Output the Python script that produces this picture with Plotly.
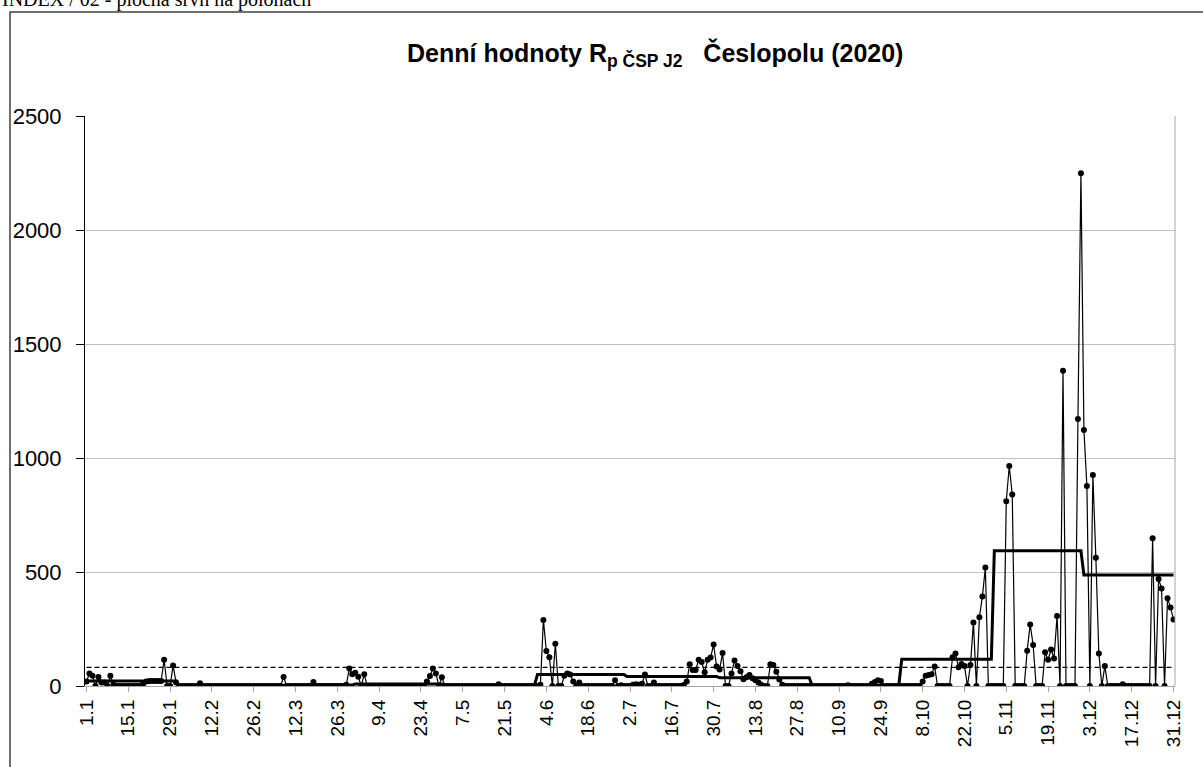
import plotly.graph_objects as go

# ---------------- data ----------------
tick_labels = ["1.1", "15.1", "29.1", "12.2", "26.2", "12.3", "26.3", "9.4", "23.4",
               "7.5", "21.5", "4.6", "18.6", "2.7", "16.7", "30.7", "13.8", "27.8",
               "10.9", "24.9", "8.10", "22.10", "5.11", "19.11", "3.12", "17.12", "31.12"]

month_lengths = [31, 28, 31, 30, 31, 30, 31, 31, 30, 31, 30, 31]

jan = [20, 55, 45, 0, 40, 15, 15, 0, 45, 5, 0, 0, 0, 0, 0, 0, 0, 0, 0, 10,
       20, 22, 22, 22, 22, 22, 115, 0, 0, 90, 15]
feb = [0, 0, 0, 0, 0, 0, 0, 12, 0, 0, 0, 0, 0, 0, 0, 0, 0, 0, 0, 0,
       0, 0, 0, 0, 0, 0, 0, 0]
mar = [0, 0, 0, 0, 0, 0, 0, 40, 0, 0, 0, 0, 0, 0, 0, 0, 0, 18, 0, 0,
       0, 0, 0, 0, 0, 0, 0, 0, 5, 77, 52]
apr = [58, 41, 0, 51, 0, 0, 0, 0, 0, 0, 0, 0, 0, 0, 0, 0, 0, 0, 0, 0,
       0, 0, 0, 0, 20, 44, 77, 55, 0, 38]
may = [0, 0, 0, 0, 0, 0, 0, 0, 0, 0, 0, 0, 0, 0, 0, 0, 0, 0, 8, 0,
       0, 0, 0, 0, 0, 0, 0, 0, 0, 0, 0]
jun = [0, 5, 290, 153, 126, 0, 185, 0, 0, 45, 55, 50, 20, 0, 15, 0, 0, 0, 0, 0,
       0, 0, 0, 0, 0, 0, 25, 0, 3, 0]
jul = [0, 0, 5, 8, 5, 10, 50, 0, 0, 15, 0, 0, 0, 0, 0, 0, 0, 0, 0, 4,
       20, 95, 70, 70, 115, 105, 60, 115, 125, 182, 85]
aug = [72, 145, 0, 0, 55, 112, 88, 65, 30, 38, 48, 34, 25, 15, 5, 0, 0, 95, 92, 63,
       29, 5, 0, 0, 0, 0, 0, 0, 0, 0, 0]
sep = [0, 0, 0, 0, 0, 0, 0, 0, 0, 0, 0, 0, 3, 0, 0, 0, 0, 0, 0, 0,
       10, 18, 25, 22, 0, 0, 0, 0, 0, 0]
oct_ = [0, 0, 0, 0, 0, 0, 0, 20, 45, 48, 52, 85, 0, 0, 0, 0, 0, 126, 143, 82,
        96, 88, 0, 92, 278, 0, 301, 392, 520, 0, 0]
nov = [0, 0, 0, 0, 810, 965, 840, 0, 0, 0, 0, 155, 270, 180, 0, 0, 0, 148, 115, 160,
       121, 307, 0, 1383, 0, 0, 0, 0, 1171, 2249]
dec = [1123, 877, 0, 925, 563, 143, 0, 88, 0, 0, 0, 0, 0, 8, 0, 0, 0, 0, 0, 0,
       0, 0, 0, 648, 0, 469, 428, 0, 385, 344, 292]

monthly_level = [22, 1, 4, 9, 2, 50, 42, 36, 2, 117, 593, 487]
limit_value = 82

# ---------------- build ----------------
daily = jan + feb + mar + apr + may + jun + jul + aug + sep + oct_ + nov + dec
days = list(range(1, len(daily) + 1))
level = []
for m, n in zip(monthly_level, month_lengths):
    level += [m] * n
limit = [limit_value] * len(days)
tick_vals = [1 + 14 * i for i in range(len(tick_labels))]

FONT = "Liberation Sans, Arial, sans-serif"

fig = go.Figure()
fig.add_trace(go.Scatter(x=days, y=limit, mode="lines",
                         line=dict(color="black", width=1.2, dash="5px,3px"),
                         hoverinfo="skip", showlegend=False))
fig.add_trace(go.Scatter(x=days, y=level, mode="lines",
                         line=dict(color="black", width=3),
                         showlegend=False))
fig.add_trace(go.Scatter(x=days, y=daily, mode="lines+markers",
                         line=dict(color="black", width=1.2),
                         marker=dict(color="black", size=6),
                         showlegend=False))

fig.update_layout(
    width=1203, height=767,
    margin=dict(l=85, r=28, t=116, b=81),
    paper_bgcolor="white", plot_bgcolor="white",
    font=dict(family=FONT, color="black"),
    showlegend=False,
)
fig.update_xaxes(range=[0.5, 365.5], tickmode="array", tickvals=tick_vals,
                 ticktext=tick_labels, tickangle=-90, automargin=False,
                 tickfont=dict(size=19, family=FONT, color="black"),
                 showgrid=False, zeroline=False,
                 showline=True, linecolor="#a6a6a6", linewidth=1,
                 ticks="outside", ticklen=5, tickcolor="#a6a6a6")
fig.update_yaxes(range=[0, 2500], tickmode="array", automargin=False,
                 tickvals=[0, 500, 1000, 1500, 2000, 2500],
                 tickfont=dict(size=22, family=FONT, color="black"),
                 showgrid=True, gridcolor="#c0c0c0", gridwidth=1,
                 zeroline=False, showline=True, linecolor="black", linewidth=1,
                 ticks="outside", ticklen=8, tickcolor="black",
                 ticklabelstandoff=10)

# right border of plot area
fig.add_shape(type="line", xref="paper", yref="paper", x0=1, x1=1, y0=0, y1=1,
              line=dict(color="#a6a6a6", width=1))
# outer chart frame
fig.add_shape(type="rect", xref="paper", yref="paper",
              x0=(10 - 85) / 1090, x1=(1210 - 85) / 1090,
              y0=(686 - 775) / 570, y1=(686 - 12) / 570,
              line=dict(color="#404040", width=1.5))

fig.add_annotation(xref="paper", yref="paper", x=(655 - 85) / 1090, y=(686 - 55) / 570,
                   text="<b>Denní hodnoty R<sub>p ČSP J2</sub>\u00a0\u00a0\u00a0Česlopolu (2020)</b>",
                   showarrow=False, font=dict(size=25, family=FONT, color="black"),
                   xanchor="center", yanchor="middle")
fig.add_annotation(xref="paper", yref="paper", x=(0 - 85) / 1090, y=(686 - 13) / 570,
                   text="INDEX / 02 - plocha srvn na polohách",
                   showarrow=False, font=dict(size=20, family="Liberation Serif, Times New Roman, serif",
                                              color="black"),
                   xanchor="left", yanchor="bottom")

# remove the default page margin so the figure starts at the window corner
fig.write_html("out.html", config={"displayModeBar": False},
               post_script="document.body.style.margin='0';")
